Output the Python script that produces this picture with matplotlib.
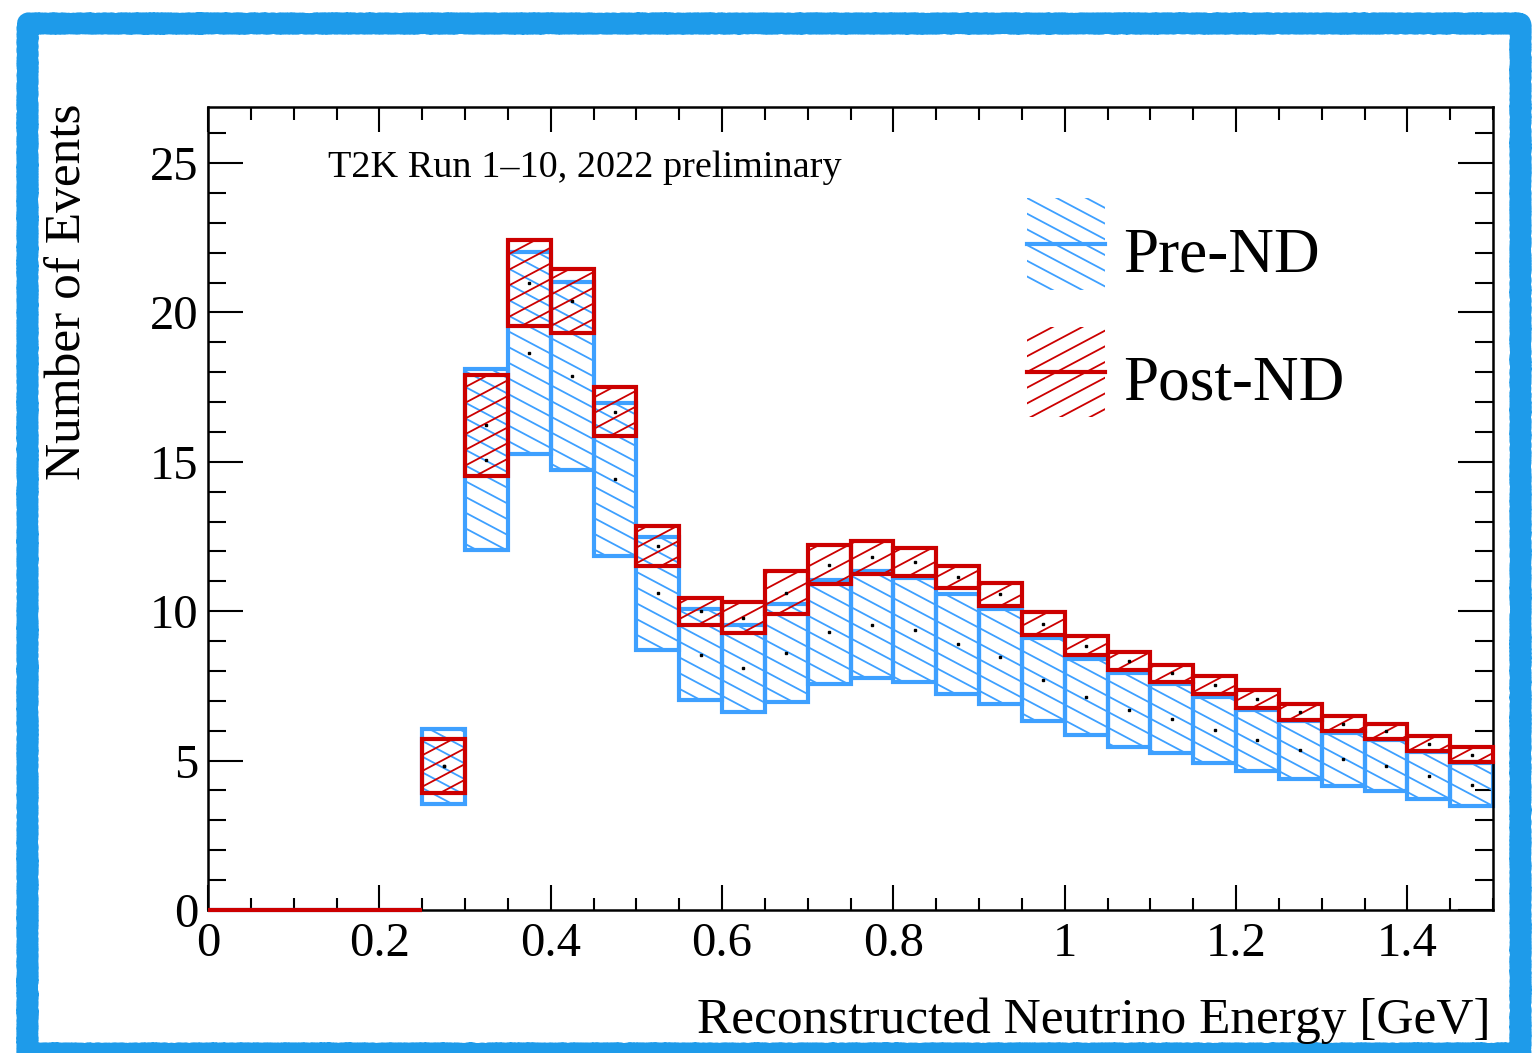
import numpy as np
import matplotlib
matplotlib.use("Agg")
import matplotlib.pyplot as plt
from matplotlib.path import Path
from matplotlib.patches import PathPatch, Rectangle
from matplotlib.collections import LineCollection
from matplotlib.ticker import MultipleLocator, FuncFormatter

# binning (GeV)
bin_edges = np.round(np.arange(0, 1.5001, 0.05), 2)

# Pre-ND band: central value and half-width per bin
pre_mean = [0, 0, 0, 0, 0, 4.81, 15.07, 18.64, 17.87, 14.41, 10.60, 8.54, 8.09, 8.60, 9.29,
            9.55, 9.36, 8.90, 8.48, 7.70, 7.13, 6.69, 6.40, 6.02, 5.68, 5.35, 5.05, 4.83, 4.50, 4.19]
pre_err = [0, 0, 0, 0, 0, 1.26, 3.03, 3.38, 3.14, 2.56, 1.90, 1.52, 1.46, 1.64, 1.74,
           1.79, 1.74, 1.68, 1.58, 1.39, 1.28, 1.23, 1.15, 1.11, 1.03, 0.97, 0.89, 0.86, 0.79, 0.72]

# Post-ND band
post_mean = [0, 0, 0, 0, 0, 4.83, 16.22, 20.98, 20.38, 16.68, 12.17, 9.99, 9.78, 10.61, 11.55,
             11.80, 11.65, 11.13, 10.56, 9.58, 8.85, 8.34, 7.92, 7.54, 7.05, 6.63, 6.23, 5.98, 5.57, 5.20]
post_err = [0, 0, 0, 0, 0, 0.90, 1.68, 1.44, 1.08, 0.83, 0.67, 0.45, 0.52, 0.72, 0.65,
            0.54, 0.48, 0.37, 0.40, 0.38, 0.33, 0.30, 0.28, 0.30, 0.30, 0.28, 0.25, 0.25, 0.24, 0.24]

labels = ["Pre-ND", "Post-ND"]
BLUE = "#3EA0FF"
RED = "#CC0000"

plt.rcParams["font.family"] = ["Liberation Serif", "DejaVu Serif"]

W_PX, H_PX = 1536, 1053
fig = plt.figure(figsize=(W_PX / 100, H_PX / 100), dpi=100)
AX_L, AX_R, AX_T, AX_B = 208, 1493, 106.7, 910
ax = fig.add_axes([AX_L / W_PX, 1 - AX_B / H_PX, (AX_R - AX_L) / W_PX, (AX_B - AX_T) / H_PX])
axw, axh = AX_R - AX_L, AX_B - AX_T


def px2ax(px, py):
    return (px - AX_L) / axw, (AX_B - py) / axh


def hatch(clip, color, slope, spacing=15.7, lw=1.3, z=2):
    # screen-aligned hatch lines (ROOT style), clipped to the given patch
    if slope < 0:
        cs = np.arange(0, axh - slope * axw + spacing, spacing)
    else:
        cs = np.arange(-slope * axw, axh + spacing, spacing)
    segs = [[(0, c / axh), (1, (c + slope * axw) / axh)] for c in cs]
    lc = LineCollection(segs, colors=color, linewidths=lw, transform=ax.transAxes, zorder=z)
    ax.add_collection(lc, autolim=False)
    lc.set_clip_path(clip)


def band(mean, err, color, slope, z):
    mean = np.array(mean)
    err = np.array(err)
    lo, hi = mean - err, mean + err
    paths = []
    for i in range(len(mean)):
        x0, x1 = bin_edges[i], bin_edges[i + 1]
        paths.append(Path([(x0, lo[i]), (x1, lo[i]), (x1, hi[i]), (x0, hi[i]), (x0, lo[i])],
                          [Path.MOVETO, Path.LINETO, Path.LINETO, Path.LINETO, Path.CLOSEPOLY]))
    p = Path.make_compound_path(*paths)
    clip = PathPatch(p, facecolor="none", edgecolor="none")
    ax.add_patch(clip)
    hatch(clip, color, slope, z=z)
    ax.add_patch(PathPatch(p, facecolor="none", edgecolor=color, lw=3.0, zorder=z + 0.1,
                           clip_on=False, joinstyle="miter"))


band(pre_mean, pre_err, BLUE, -0.53, 2)
band(post_mean, post_err, RED, 0.53, 3)

centers = (bin_edges[:-1] + bin_edges[1:]) / 2
for m, e in [(pre_mean, pre_err), (post_mean, post_err)]:
    sel = np.array(e) > 0
    ax.plot(centers[sel], np.array(m)[sel], "s", ms=1.6, color="k", ls="none", zorder=5)

ax.set_xlim(0, 1.5)
ax.set_ylim(0, (AX_B - AX_T) / 29.88)
ax.xaxis.set_major_locator(MultipleLocator(0.2))
ax.xaxis.set_minor_locator(MultipleLocator(0.05))
ax.yaxis.set_major_locator(MultipleLocator(5))
ax.yaxis.set_minor_locator(MultipleLocator(1))
ax.xaxis.set_major_formatter(FuncFormatter(lambda v, p: "{:g}".format(round(v, 2))))
ax.tick_params(which="both", direction="in", top=True, right=True, width=1.5, labelsize=35)
ax.tick_params(axis="x", which="major", length=18, pad=9)
ax.tick_params(axis="x", which="minor", length=9)
ax.tick_params(axis="y", which="major", length=25, pad=7)
ax.tick_params(axis="y", which="minor", length=13)
for s in ax.spines.values():
    s.set_linewidth(1.8)

fig.text(1491 / W_PX, 1 - 1033 / H_PX, "Reconstructed Neutrino Energy [GeV]",
         ha="right", va="baseline", fontsize=37)
fig.text(68 / W_PX, 1 - 104 / H_PX, "Number of Events", rotation=90,
         ha="center", va="top", fontsize=37)
ax.text(*px2ax(328, 177), "T2K Run 1\u201310, 2022 preliminary", transform=ax.transAxes,
        ha="left", va="baseline", fontsize=27.5)

# legend
for (y0, y1, color, slope, label) in [(198, 290, BLUE, -0.53, labels[0]),
                                      (327, 417, RED, 0.53, labels[1])]:
    x0, yb = px2ax(1027, y1)
    x1, yt = px2ax(1105, y0)
    r = Rectangle((x0, yb), x1 - x0, yt - yb, transform=ax.transAxes,
                  facecolor="none", edgecolor="none")
    ax.add_patch(r)
    hatch(r, color, slope, z=6)
    ym = (yb + yt) / 2
    ax.plot([x0, x1], [ym, ym], color=color, lw=3.0, transform=ax.transAxes, zorder=7)
    ax.text(*px2ax(1123, (y0 + y1) / 2 + 28), label, transform=ax.transAxes,
            ha="left", va="baseline", fontsize=45.5)

# hand-drawn blue frame
frame = Rectangle((27 / W_PX, 1 - 1053 / H_PX), (1520 - 27) / W_PX, (1053 - 23) / H_PX,
                  transform=fig.transFigure, fill=False, edgecolor="#1E9BEA", lw=15,
                  joinstyle="round")
frame.set_sketch_params(scale=0.8, length=6, randomness=3)
fig.add_artist(frame)

fig.savefig("out.png", dpi=100)
